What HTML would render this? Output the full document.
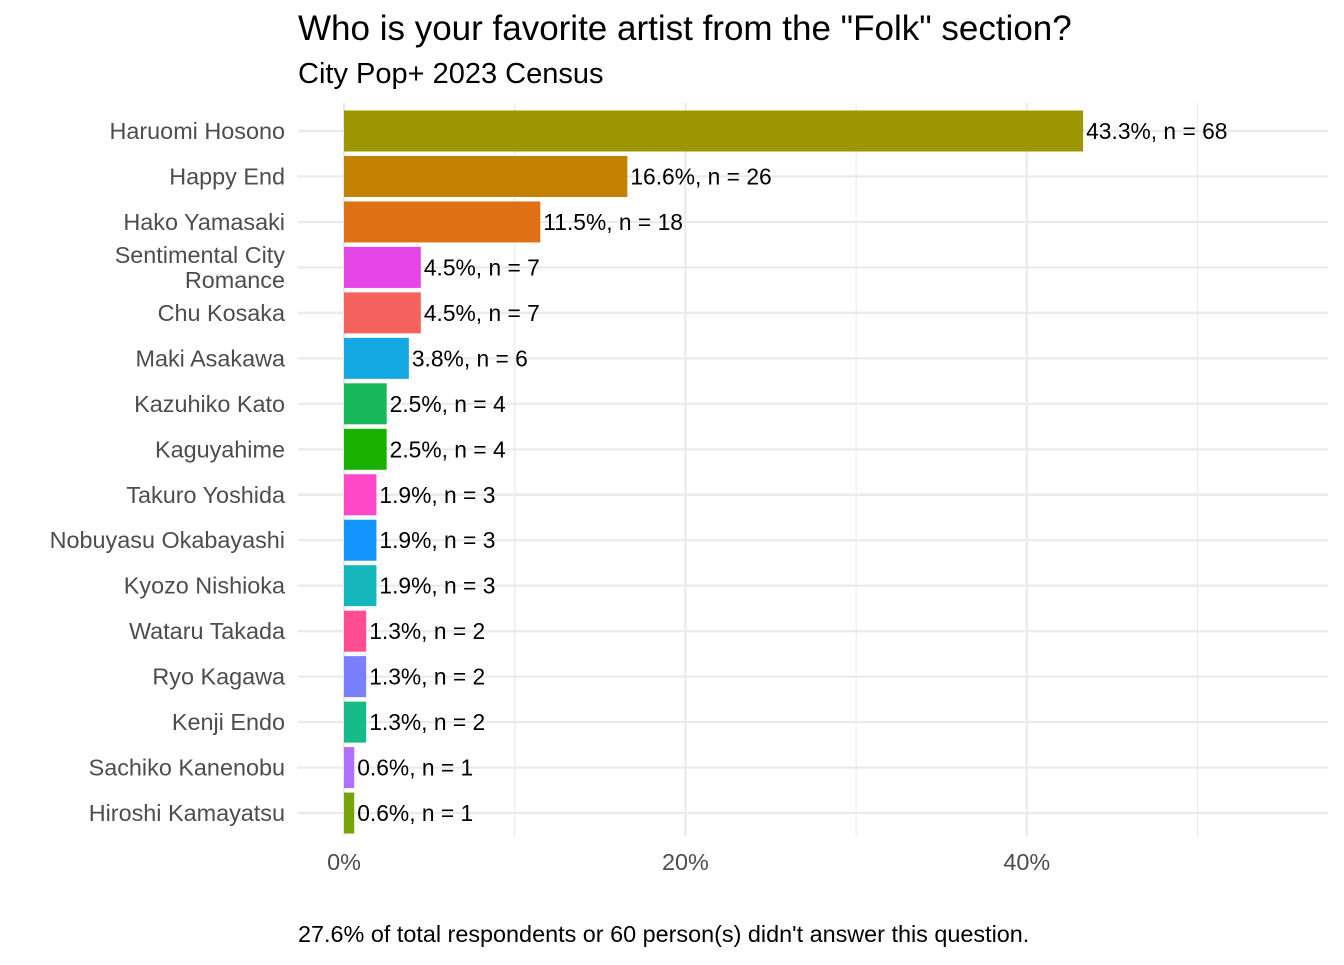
<!DOCTYPE html>
<html><head><meta charset="utf-8"><style>
body{margin:0;background:#fff;font-family:"Liberation Sans",sans-serif}
svg text{font-family:"Liberation Sans",sans-serif}
</style></head><body>
<svg id="c" width="1344" height="960">
<text x="298" y="40" font-size="35" fill="#000">Who is your favorite artist from the "Folk" section?</text>
<text x="298" y="83" font-size="29" fill="#000">City Pop+ 2023 Census</text>
<text x="298" y="942" font-size="23.4" fill="#000">27.6% of total respondents or 60 person(s) didn't answer this question.</text>
<g id="grid"></g><g id="bars"></g>
</svg>
<script>
const categories=["Haruomi Hosono","Happy End","Hako Yamasaki","Sentimental City|Romance","Chu Kosaka","Maki Asakawa","Kazuhiko Kato","Kaguyahime","Takuro Yoshida","Nobuyasu Okabayashi","Kyozo Nishioka","Wataru Takada","Ryo Kagawa","Kenji Endo","Sachiko Kanenobu","Hiroshi Kamayatsu"];
const percents=[43.3,16.6,11.5,4.5,4.5,3.8,2.5,2.5,1.9,1.9,1.9,1.3,1.3,1.3,0.6,0.6];
const counts=[68,26,18,7,7,6,4,4,3,3,3,2,2,2,1,1];
const colors=["#9c9600","#c28200","#e07015","#e546e8","#f5625e","#14a9e2","#18b75a","#19b100","#fe48c7","#1294fe","#16b6bd","#fd4c8f","#7a7ffe","#16bb88","#b06ffc","#77a40b"];
const xTicks=[0,20,40];
const NS="http://www.w3.org/2000/svg";
const x=v=>344+v*17.07;
const y=i=>131+i*45.47;
const g=document.getElementById('grid'),b=document.getElementById('bars');
function mk(tag,attrs,parent){const e=document.createElementNS(NS,tag);for(const k in attrs)e.setAttribute(k,attrs[k]);parent.appendChild(e);return e;}
[10,30,50].forEach(v=>{const l=mk('line',{x1:x(v),x2:x(v),y1:103,y2:836,stroke:'#ebebeb','stroke-width':1.2},g);

});
xTicks.forEach(v=>{const l=mk('line',{x1:x(v),x2:x(v),y1:103,y2:836,stroke:'#ebebeb','stroke-width':2.4},g);


const t=mk('text',{x:x(v),y:870,'font-size':23.4,fill:'#4d4d4d','text-anchor':'middle'},g);t.textContent=v+'%';

});
categories.forEach((c,i)=>{const yy=y(i);
const l=mk('line',{x1:298,x2:1328,y1:yy,y2:yy,stroke:'#ebebeb','stroke-width':2.4},g);


const r=mk('rect',{x:x(0),y:yy-20.5,width:x(percents[i])-x(0),height:41,fill:colors[i]},b);


const lt=mk('text',{x:x(percents[i])+3,y:yy+8,'font-size':22.8,fill:'#000'},b);lt.textContent=percents[i].toFixed(1)+'%, n = '+counts[i];


const parts=c.split('|');
const yl=mk('text',{x:285,y:yy+8-(parts.length-1)*12.5,'font-size':23.4,fill:'#4d4d4d','text-anchor':'end'},b);


parts.forEach((p,k)=>{const ts=mk('tspan',{x:285,dy:k?25:0},yl);ts.textContent=p;});
});
</script>
</body></html>
